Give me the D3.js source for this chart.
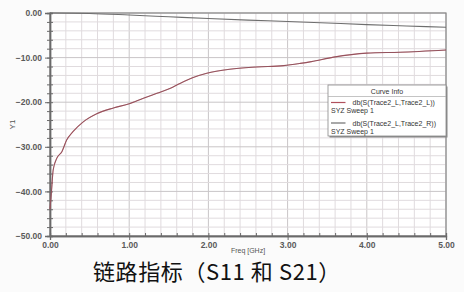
<!DOCTYPE html>
<html>
<head>
<meta charset="utf-8">
<script src="https://cdn.jsdelivr.net/npm/d3@7"></script>
<style>
  body { margin: 0; background: #fff; }
  svg { display: block; }
</style>
</head>
<body>
<div id="chart"></div>
<script>
// S11 (return loss) and S21 (insertion loss)
const freqS11 = [0, 0.02, 0.04, 0.085, 0.15, 0.21, 0.29, 0.42, 0.59, 0.8, 0.99, 1.18, 1.35, 1.52, 1.64, 1.8, 1.98, 2.27, 2.61, 2.95, 3.16, 3.3, 3.58, 4.0, 4.42, 5.0];
const s11 = [-44, -39.7, -35.2, -32.6, -31.1, -28.5, -26.6, -24.4, -22.6, -21.3, -20.4, -19.1, -18.0, -16.9, -15.8, -14.5, -13.5, -12.6, -12.1, -11.8, -11.3, -10.9, -9.9, -9.0, -8.8, -8.3];
const freqS21 = [0, 0.5, 1.0, 1.5, 2.0, 2.5, 3.0, 3.5, 4.0, 4.5, 5.0];
const s21 = [0, -0.1, -0.45, -0.85, -1.25, -1.6, -1.9, -2.25, -2.6, -2.9, -3.2];
const xTicks = [0, 1, 2, 3, 4, 5];
const yTicks = [0, -10, -20, -30, -40, -50];
const legendNames = ["db(S(Trace2_L,Trace2_L))", "db(S(Trace2_L,Trace2_R))"];
const colors = ["#b0505c", "#6e6e6e"];

const W = 464, H = 292;
let margin = {top: 13, right: 18, bottom: 56, left: 50};
let width = W - margin.left - margin.right,
    height = H - margin.top - margin.bottom;

const svg = d3.select("#chart").append("svg")
  .attr("width", W).attr("height", H)
  .style("font-family", "Arial, 'Liberation Sans', sans-serif");

svg.append("rect").attr("width", W).attr("height", H).attr("fill", "#fbfbfb");

const g = svg.append("g").attr("transform", "translate(" + margin.left + "," + margin.top + ")");

let x = d3.scaleLinear().domain([0, 5]).range([0, width]);
let y = d3.scaleLinear().domain([-50, 0]).range([height, 0]);

g.append("rect").attr("width", width).attr("height", height).attr("fill", "#fff");

// grid
const xMinor = d3.range(0, 5.001, 0.2);
const yMinor = d3.range(-50, 0.001, 2);
g.selectAll(".gx").data(xMinor).enter().append("line")
  .attr("x1", d => x(d)).attr("x2", d => x(d))
  .attr("y1", 0).attr("y2", height)
  .attr("stroke", d => Math.abs(d - Math.round(d)) < 1e-6 ? "#c9c5c7" : "#e0dbde")
  .attr("stroke-width", 1);
g.selectAll(".gy").data(yMinor).enter().append("line")
  .attr("y1", d => y(d)).attr("y2", d => y(d))
  .attr("x1", 0).attr("x2", width)
  .attr("stroke", d => d % 10 === 0 ? "#c9c5c7" : "#e0dbde")
  .attr("stroke-width", 1);

// border top/right
g.append("rect").attr("width", width).attr("height", height)
  .attr("fill", "none").attr("stroke", "#8a8a8a").attr("stroke-width", 1.2);

// axes
g.append("g").attr("transform", "translate(0," + height + ")")
  .call(d3.axisBottom(x).tickValues(xTicks).tickFormat(d3.format(".2f")).tickSize(4).tickPadding(2));
g.append("g").attr("transform", "translate(0," + height + ")")
  .call(d3.axisTop(x).tickValues(xMinor).tickFormat("").tickSize(3));
g.append("g")
  .call(d3.axisLeft(y).tickValues(yTicks).tickFormat(d3.format(".2f")).tickSize(5).tickPadding(3));
g.append("g")
  .call(d3.axisRight(y).tickValues(yMinor).tickFormat("").tickSize(3));
g.append("g")
  .call(d3.axisLeft(y).tickValues(yMinor).tickFormat("").tickSize(3));

g.selectAll(".domain").attr("stroke", "#6a6a6a").attr("stroke-width", 1.3);
g.selectAll(".tick line").attr("stroke", "#6a6a6a");
g.selectAll(".tick text").attr("fill", "#5a5a5a").style("font-size", "8.5px").style("font-weight", "bold");

// axis titles
g.append("text").attr("x", width / 2).attr("y", height + 17)
  .attr("text-anchor", "middle").attr("fill", "#555").style("font-size", "7px")
  .text("Freq [GHz]");
g.append("text").attr("transform", "translate(" + (-35) + "," + (height / 2) + ") rotate(-90)")
  .attr("text-anchor", "middle").attr("fill", "#555").style("font-size", "8px")
  .text("Y1");

// curves
const line = d3.line().x(d => x(d[0])).y(d => y(d[1])).curve(d3.curveMonotoneX);
g.append("path").datum(freqS21.map((f, i) => [f, s21[i]]))
  .attr("d", line).attr("fill", "none").attr("stroke", colors[1]).attr("stroke-width", 1.1);
g.append("path").datum(freqS11.map((f, i) => [f, s11[i]]))
  .attr("d", line).attr("fill", "none").attr("stroke", colors[0]).attr("stroke-width", 1.1);
g.append("path").datum(freqS11.map((f, i) => [f, s11[i]]))
  .attr("d", line).attr("fill", "none").attr("stroke", "#6a5a60").attr("stroke-width", 0.6).attr("opacity", 0.7);

// legend
const lx = 328 - margin.left, ly = 85 - margin.top, lw = 118, lh = 51;
const leg = g.append("g").attr("transform", "translate(" + lx + "," + ly + ")");
leg.append("rect").attr("x", 1.5).attr("y", 1.5).attr("width", lw).attr("height", lh).attr("fill", "#8a8a8a");
leg.append("rect").attr("width", lw).attr("height", lh).attr("fill", "#fff").attr("stroke", "#888").attr("stroke-width", 0.8);
leg.append("text").attr("x", lw / 2).attr("y", 8.5).attr("text-anchor", "middle")
  .attr("fill", "#333").style("font-size", "7px").text("Curve Info");
leg.append("line").attr("x1", 0).attr("x2", lw).attr("y1", 11.5).attr("y2", 11.5).attr("stroke", "#aaa").attr("stroke-width", 0.7);
legendNames.forEach((name, i) => {
  const yy = 17.5 + i * 20.5;
  leg.append("line").attr("x1", 3).attr("x2", 17.5).attr("y1", yy).attr("y2", yy)
    .attr("stroke", colors[i]).attr("stroke-width", 1.2);
  leg.append("text").attr("x", 24.5).attr("y", yy + 2.5).attr("fill", "#333")
    .style("font-size", "7px").text(name);
  leg.append("text").attr("x", 3).attr("y", yy + 10.5).attr("fill", "#333")
    .style("font-size", "7px").text("SYZ Sweep 1");
});

// caption
svg.append("text").attr("x", 93).attr("y", 280)
  .attr("fill", "#111")
  .style("font-family", "'Noto Sans CJK SC', 'Noto Sans', sans-serif")
  .style("font-size", "22px")
  .style("letter-spacing", "0.6px")
  .text("链路指标（S11 和 S21）");
</script>
</body>
</html>
